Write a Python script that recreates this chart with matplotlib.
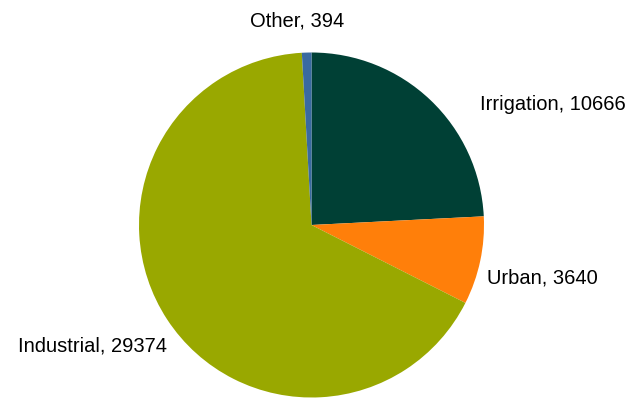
import matplotlib
matplotlib.use("Agg")
import matplotlib.pyplot as plt

# water use by sector
sectors = ["Irrigation", "Urban", "Industrial", "Other"]
usage = [10666, 3640, 29374, 394]
colors = ["#004035", "#ff7f0a", "#99a800", "#3a6aa0"]

plt.rcParams["font.family"] = ["Liberation Sans", "DejaVu Sans"]

fig = plt.figure(figsize=(6.33, 3.98), dpi=100)
ax = fig.add_axes([0, 0, 1, 1])

wedges, texts = ax.pie(usage, colors=colors, startangle=90, counterclock=False,
                       labels=[f"{s}, {v}" for s, v in zip(sectors, usage)],
                       wedgeprops=dict(linewidth=0), textprops=dict(fontsize=14.5))

# put the labels where they sit around the disc (baseline anchored)
label_pos = {
    "Irrigation": ((0.977, 0.667), "left"),
    "Urban": ((1.017, -0.342), "left"),
    "Industrial": ((-0.838, -0.736), "right"),
    "Other": ((-0.081, 1.148), "center"),
}
for t, s in zip(texts, sectors):
    (x, y), ha = label_pos[s]
    t.set_position((x, y))
    t.set_ha(ha)
    t.set_va("baseline")

ax.set_aspect("auto")
ax.set_xlim(-311.5 / 172.5, (633 - 311.5) / 172.5)
ax.set_ylim(-(398 - 225) / 172.5, 225 / 172.5)
ax.axis("off")

fig.savefig("out.png", dpi=100)
